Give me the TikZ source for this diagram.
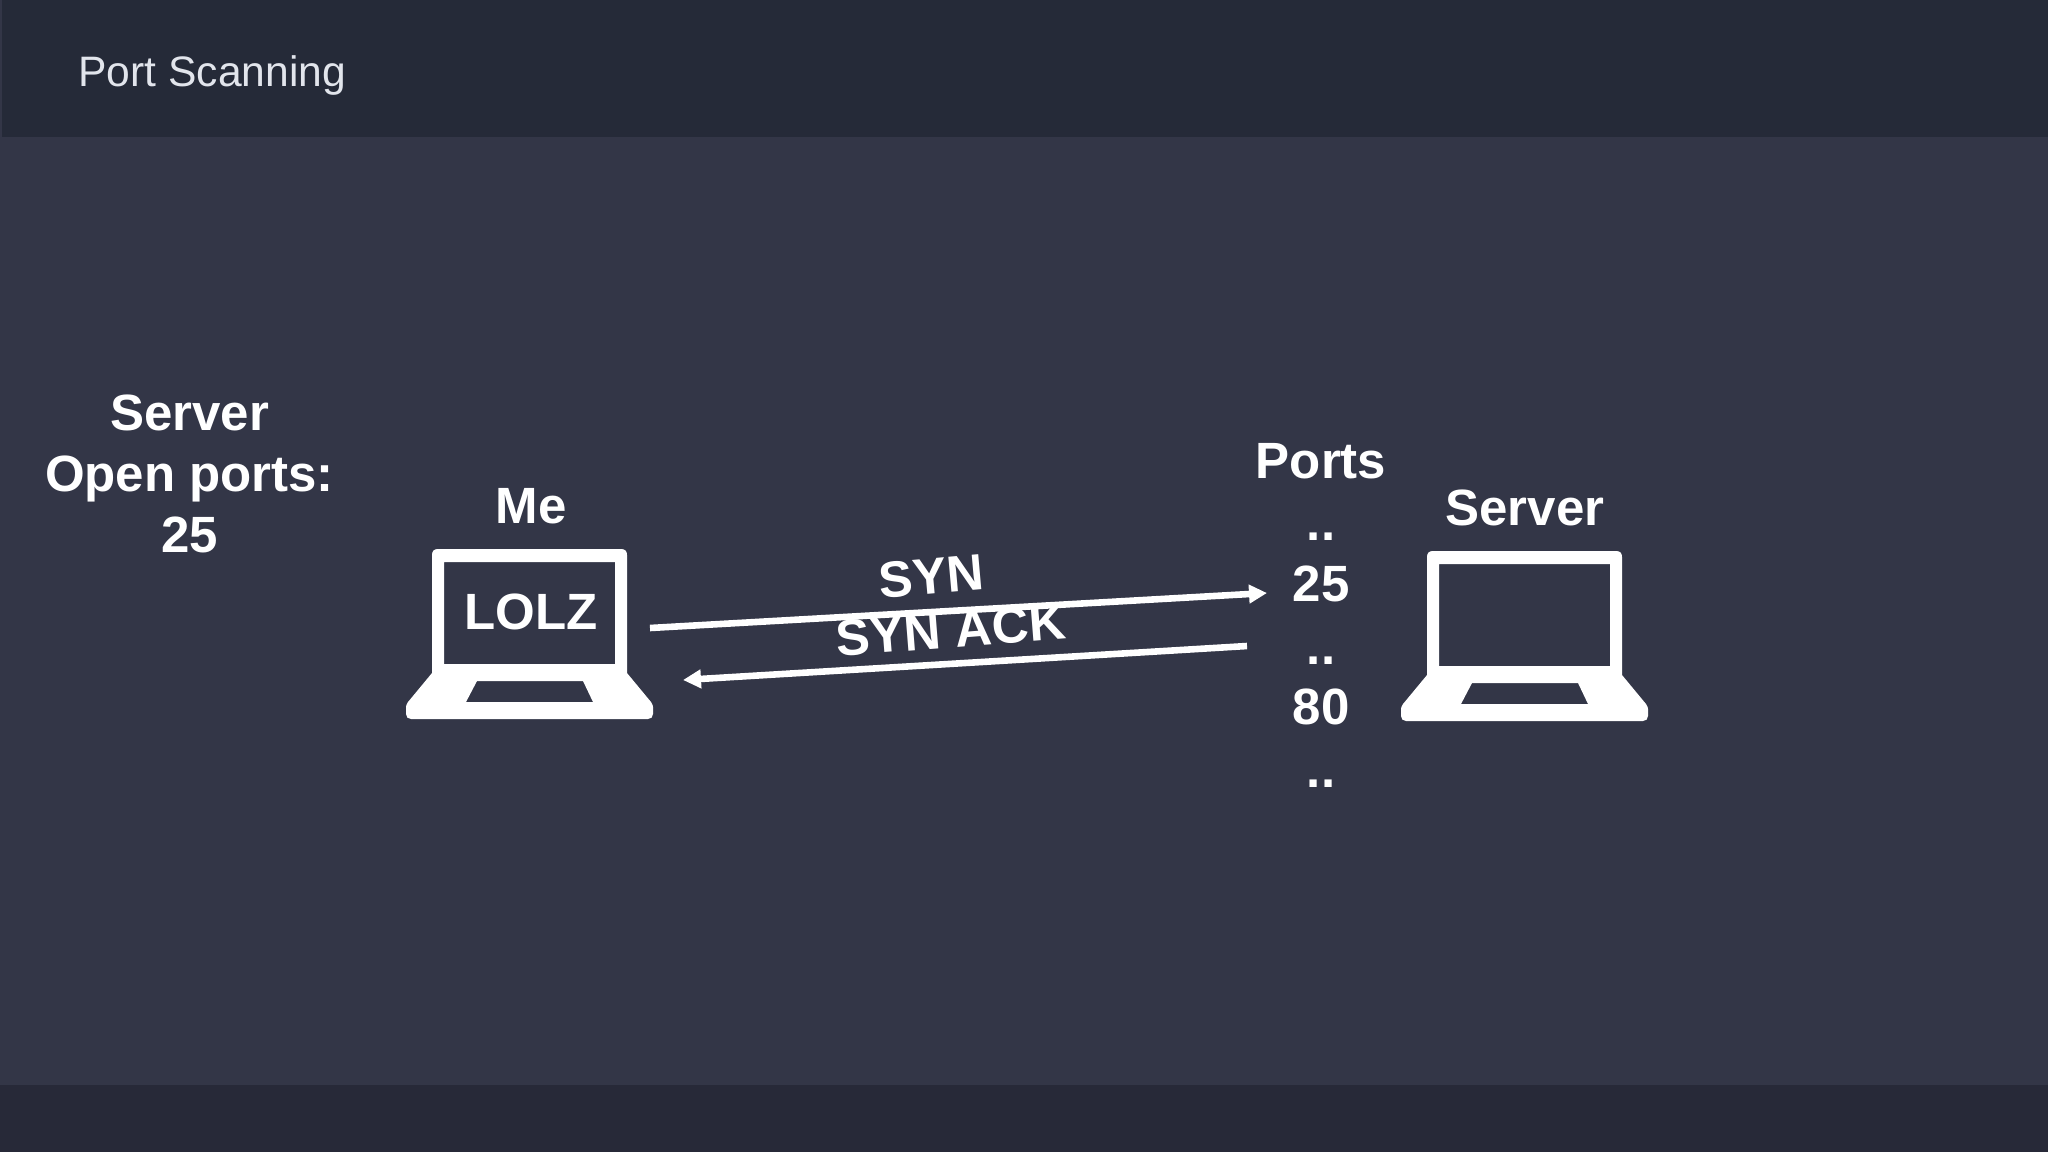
\documentclass[tikz,border=0pt]{standalone}
\usepackage{fontspec}
\setmainfont{Liberation Sans}
\usetikzlibrary{arrows.meta}
\definecolor{mainbg}{HTML}{333647}
\definecolor{headbg}{HTML}{252A38}
\definecolor{footbg}{HTML}{272938}
\definecolor{titlecol}{HTML}{E2E5EC}
\tikzset{
  x=0.5pt,y=-0.5pt,
  lbl/.style={font=\bfseries\fontsize{25.5}{30}\selectfont,text=white,inner sep=0pt,anchor=base},
  titletext/.style={font=\fontsize{21.3}{25}\selectfont,text=titlecol,inner sep=0pt,anchor=base west},
  link/.style={draw=white,line width=3.3pt,-{Triangle[length=9pt,width=9pt]}},
  laptop/.pic={
    \fill[white,even odd rule]
      (26,124) -- (26,6) .. controls (26,2) and (28,0) .. (32,0)
      -- (215,0) .. controls (219,0) and (221,2) .. (221,6)
      -- (221,124) -- (245,153) .. controls (246.5,155) and (247,157) .. (247,158)
      -- (247,165) .. controls (247,168) and (245,170) .. (242,170)
      -- (5,170) .. controls (2,170) and (0,168) .. (0,165)
      -- (0,158) .. controls (0,157) and (0.5,155) .. (2,153) -- cycle
      (38,13) rectangle (209,115)
      (71,132) -- (177,132) -- (187,153) -- (60,153) -- cycle;
  }
}
\begin{document}
\begin{tikzpicture}
\useasboundingbox (0,0) rectangle (2048,1152);
\fill[mainbg] (0,0) rectangle (2048,1152);
\fill[headbg] (2,0) rectangle (2048,137);
\fill[footbg] (0,1085) rectangle (2048,1152);
\node[titletext] (title) at (78,86) {Port Scanning};

\node[lbl] (s1) at (189.5,430) {Server};
\node[lbl] (s2) at (189.5,491) {Open ports:};
\node[lbl] (s3) at (189.5,552) {25};

\pic at (406,549) {laptop};
\pic at (1401,551) {laptop};
\node[lbl] (me) at (531,523) {Me};
\node[lbl] (lolz) at (531,629) {LOLZ};
\node[lbl] (srv) at (1525,525) {Server};

\node[lbl] (ports) at (1321,478) {Ports};
\node[lbl] (d1) at (1321,540) {..};
\node[lbl] (p25) at (1321,601) {25};
\node[lbl] (d2) at (1321,664) {..};
\node[lbl] (p80) at (1321,724) {80};
\node[lbl] (d3) at (1321,787) {..};

\coordinate (a1) at (650,628);
\coordinate (a2) at (1267,593);
\coordinate (b1) at (1247,646);
\coordinate (b2) at (683,680);
\draw[link] (a1) -- (a2);
\draw[link] (b1) -- (b2);
\node[lbl,anchor=center,rotate=5] (syn) at (931,576) {SYN};
\node[lbl,anchor=center,rotate=4.5] (synack) at (951,630) {SYN ACK};
\end{tikzpicture}
\end{document}
